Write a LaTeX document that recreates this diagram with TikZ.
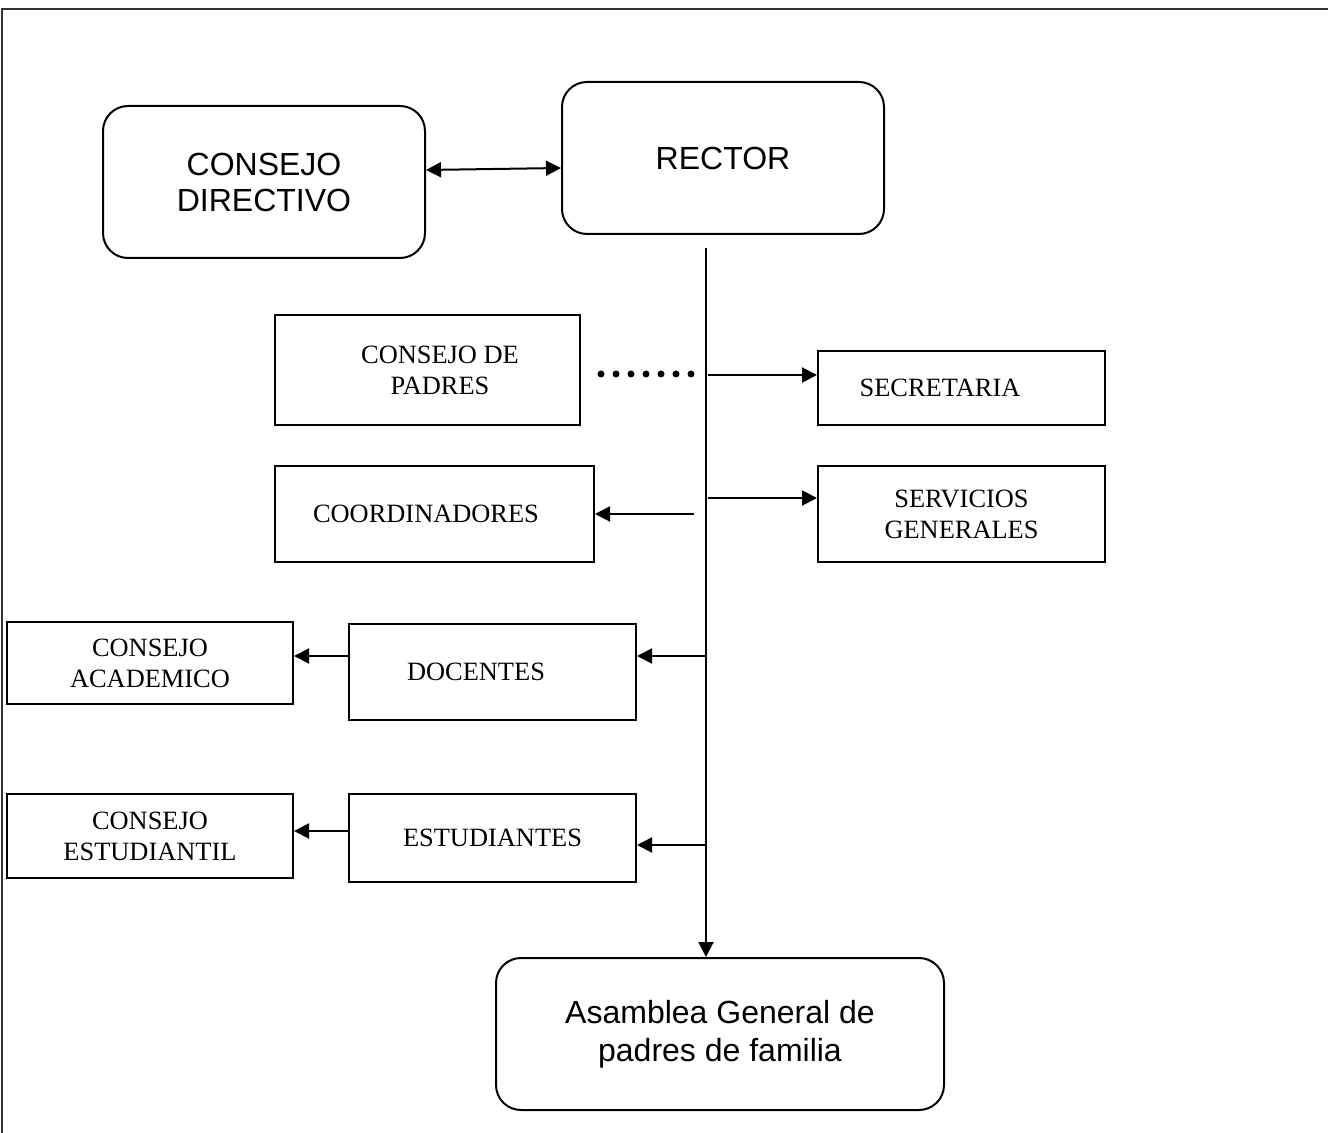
\documentclass[tikz,border=0pt]{standalone}
\usepackage{fontspec}
\setmainfont{Liberation Serif}
\setsansfont{Liberation Sans}
\usetikzlibrary{arrows.meta}

\tikzset{
	box/.style={draw, line width=1pt, align=center, inner sep=0pt, font=\fontsize{13.2}{15.5}\selectfont},
	rbox/.style={box, rounded corners=12.5pt, font=\sffamily\fontsize{16}{18}\selectfont},
	conn/.style={line width=1pt, -{Triangle[length=7.5pt,width=7.5pt]}},
}

\begin{document}
\begin{tikzpicture}[x=0.5pt, y=-0.5pt]
		\useasboundingbox (0,0) rectangle (1328,1133);

		%frame
		\draw[line width=0.9pt, black!80] (1328,9) -- (2,9) -- (2,1133);

		%rounded boxes
		\node[rbox, minimum width=161pt, minimum height=76pt] (cd) at (264,182) {CONSEJO\\DIRECTIVO};
		\node[rbox, minimum width=161pt, minimum height=76pt] (r) at (723,158) {RECTOR};
		\node[rbox, minimum width=224pt, minimum height=76pt, font=\sffamily\fontsize{16}{19}\selectfont] (ag) at (720,1034) {Asamblea General de\\padres de familia};

		%right side
		\node[box, minimum width=143.5pt, minimum height=37pt] (s) at (961.5,388) {SECRETARIA\hspace*{21.5pt}};
		\node[box, minimum width=143.5pt, minimum height=48pt] (sg) at (961.5,514) {SERVICIOS\\GENERALES};

		%left side
		\node[box, minimum width=152.5pt, minimum height=55pt] (cp) at (427.5,370) {\hspace*{12.5pt}CONSEJO DE\\\hspace*{12.5pt}PADRES};
		\node[box, minimum width=159.5pt, minimum height=48pt] (co) at (434.5,514) {COORDINADORES\hspace*{8.5pt}};
		\node[box, minimum width=143.5pt, minimum height=48pt] (d) at (492.5,672) {DOCENTES\hspace*{16.5pt}};
		\node[box, minimum width=143.5pt, minimum height=44pt] (e) at (492.5,838) {ESTUDIANTES};
		\node[box, minimum width=143pt, minimum height=41pt] (ca) at (150,663) {CONSEJO\\ACADEMICO};
		\node[box, minimum width=143pt, minimum height=42pt] (ce) at (150,836) {CONSEJO\\ESTUDIANTIL};

		%main line
		\coordinate (t) at (706,248);
		\draw[conn] (t) -- (t |- ag.north);
		\draw[line width=1pt, {Triangle[length=7.5pt,width=7.5pt]}-{Triangle[length=7.5pt,width=7.5pt]}] ([yshift=6pt]cd.east) -- ([yshift=-5pt]r.west);

		%branches
		\coordinate (b1) at (708,375);
		\coordinate (b2) at (708,498);
		\coordinate (b3) at (694,514);
		\coordinate (b4) at (706,656);
		\coordinate (b5) at (706,845);
		\coordinate (b6) at (349,831);
		\draw[conn] (b1) -- (b1 -| s.west);
		\draw[conn] (b2) -- (b2 -| sg.west);
		\draw[conn] (b3) -- (b3 -| co.east);
		\draw[conn] (b4) -- (b4 -| d.east);
		\draw[conn] (b4 -| d.west) -- (b4 -| ca.east);
		\draw[conn] (b5) -- (b5 -| e.east);
		\draw[conn] (b6 -| e.west) -- (b6 -| ce.east);

		%dots
		\draw[line width=3.5pt, line cap=round, dash pattern=on 0pt off 7.5pt] ([xshift=10pt, yshift=-2pt]cp.east) -- ++(92,0);
	\end{tikzpicture}
\end{document}
